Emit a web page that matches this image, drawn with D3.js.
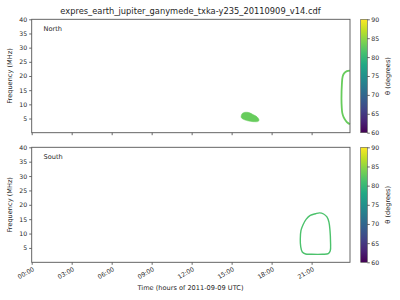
<!DOCTYPE html>
<html><head><meta charset="utf-8">
<script src="https://cdn.jsdelivr.net/npm/d3@7"></script>
<style>body{margin:0;background:#fff}svg{display:block}text{font-family:"DejaVu Sans",sans-serif}</style>
</head><body><svg id="c" width="400" height="300"></svg>
<script>
const title = "expres_earth_jupiter_ganymede_txka-y235_20110909_v14.cdf";
const xTickHours = [0,3,6,9,12,15,18,21];
const xTickLabels = ["00:00","03:00","06:00","09:00","12:00","15:00","18:00","21:00"];
const yTicks = [5,10,15,20,25,30,35,40];
const cbTicks = [60,65,70,75,80,85,90];
// [hour, MHz]
const northBlob = [[15.72,6.0],[15.8,6.8],[16.0,7.2],[16.3,7.1],[16.6,6.4],[16.9,5.6],[17.05,4.6],[17.0,4.0],[16.6,3.9],[16.2,4.2],[15.85,4.8],[15.72,5.4]];
const northArc = [[23.87,21.9],[23.65,21.7],[23.45,21.0],[23.33,19.8],[23.27,17],[23.24,12],[23.26,9],[23.3,7.0],[23.4,5.5],[23.55,4.3],[23.7,3.5],[23.87,3.0]];
const southLoop = [[20.15,8],[20.2,11],[20.35,13],[20.6,15],[20.9,16.3],[21.3,16.9],[21.6,17.2],[21.9,16.8],[22.15,15.8],[22.3,14],[22.38,11],[22.42,7],[22.4,4.0],[22.25,3.0],[21.8,2.8],[21.0,2.8],[20.55,2.9],[20.3,3.6],[20.18,5.5],[20.15,8]];
const thetaBlob = 83, thetaArc = 83, thetaLoop = 81.5;

const TXT = "#262626";
const svg = d3.select("#c");
const L = 31.7, R = 350;
const x = d3.scaleLinear().domain([0, 23.88]).range([L, R]);
const color = v => d3.interpolateViridis((v-60)/30);
const panels = [{top:19.3,bot:132.7,name:"North"},{top:147.3,bot:262.3,name:"South"}];

svg.append("text").attr("x",190.5).attr("y",13.5).attr("text-anchor","middle").attr("fill",TXT).style("font-size","8.3px").text(title);

const defs = svg.append("defs");
const grad = defs.append("linearGradient").attr("id","vir").attr("x1",0).attr("y1",1).attr("x2",0).attr("y2",0);
d3.range(0,1.0001,0.1).forEach(t=>grad.append("stop").attr("offset",t).attr("stop-color",d3.interpolateViridis(t)));

panels.forEach((p,i)=>{
  const y = d3.scaleLinear().domain([0,40]).range([p.bot,p.top]);
  const g = svg.append("g");
  const line = d3.line().x(d=>x(d[0])).y(d=>y(d[1])).curve(d3.curveCatmullRom);
  if(i===0){
    g.append("path").attr("d", d3.line().x(d=>x(d[0])).y(d=>y(d[1])).curve(d3.curveCatmullRomClosed)(northBlob))
      .attr("fill",color(thetaBlob)).attr("stroke",color(thetaBlob)).attr("stroke-width",0.5);
    g.append("path").attr("d", line(northArc)).attr("fill","none").attr("stroke",color(thetaArc)).attr("stroke-width",1.8);
  } else {
    g.append("path").attr("d", d3.line().x(d=>x(d[0])).y(d=>y(d[1])).curve(d3.curveCatmullRomClosed)(southLoop.slice(0,-1)))
      .attr("fill","none").attr("stroke",color(thetaLoop)).attr("stroke-width",1.4);
  }
  const ya = g.append("g").attr("transform",`translate(${L},0)`).call(d3.axisLeft(y).tickValues(yTicks).tickSize(2.5).tickPadding(2));
  ya.selectAll("text").style("font-size","6.2px").attr("fill",TXT);
  const xa = g.append("g").attr("transform",`translate(0,${p.bot})`).call(d3.axisBottom(x).tickValues(xTickHours).tickSize(2.5).tickFormat((d,k)=> i===1 ? xTickLabels[k] : ""));
  xa.selectAll("text").style("font-size","6.2px").attr("fill",TXT).attr("text-anchor","end").attr("transform","rotate(-30)").attr("dx","-0.3em").attr("dy","0.45em");
  [ya,xa].forEach(a=>{a.select(".domain").remove();a.selectAll("line").attr("stroke","#444").attr("stroke-width",0.8);});
  g.append("rect").attr("x",L).attr("y",p.top).attr("width",R-L).attr("height",p.bot-p.top).attr("fill","none").attr("stroke","#555").attr("stroke-width",0.9);
  g.append("text").attr("x",43.5).attr("y",p.top+12).attr("fill",TXT).style("font-size","6.6px").text(p.name);
  g.append("text").attr("transform",`translate(12,${(p.top+p.bot)/2}) rotate(-90)`).attr("text-anchor","middle").attr("fill",TXT).style("font-size","6.6px").text("Frequency (MHz)");
  const cy = d3.scaleLinear().domain([60,90]).range([p.bot,p.top]);
  g.append("rect").attr("x",360.7).attr("y",p.top).attr("width",6.6).attr("height",p.bot-p.top).attr("fill","url(#vir)").attr("stroke","#555").attr("stroke-width",0.6);
  const ca = g.append("g").attr("transform","translate(367.3,0)").call(d3.axisRight(cy).tickValues(cbTicks).tickSize(2.5).tickPadding(1.5));
  ca.select(".domain").remove();
  ca.selectAll("line").attr("stroke","#444").attr("stroke-width",0.8);
  ca.selectAll("text").style("font-size","6.2px").attr("fill",TXT);
  g.append("text").attr("transform",`translate(390,${(p.top+p.bot)/2}) rotate(-90)`).attr("text-anchor","middle").attr("fill",TXT).style("font-size","6.6px").text("θ (degrees)");
});
svg.append("text").attr("x",190.5).attr("y",289.5).attr("text-anchor","middle").attr("fill",TXT).style("font-size","6.6px").text("Time (hours of 2011-09-09 UTC)");
</script></body></html>
